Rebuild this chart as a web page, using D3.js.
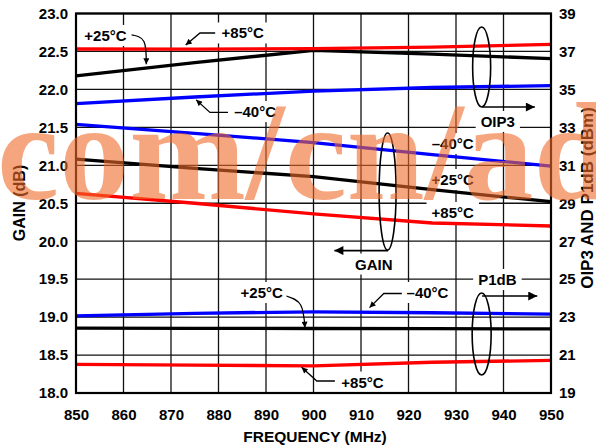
<!DOCTYPE html>
<html>
<head>
<meta charset="utf-8">
<script src="https://cdn.jsdelivr.net/npm/d3@7/dist/d3.min.js"></script>
<style>
  body { margin: 0; background: #fff; }
  svg { display: block; }
  text { font-family: "Liberation Sans", Arial, sans-serif; font-weight: bold; fill: #000; }
  text.mark { font-family: "Liberation Serif", "Times New Roman", serif; fill: #f06a28; fill-opacity: 0.6; }
</style>
</head>
<body>
<svg id="chart" width="596" height="448"></svg>
<script>
// Frequency sweep points (MHz)
const freqs = [850, 875, 900, 925, 950];

// Gain (dB), left axis
const gainM40 = [21.54, 21.42, 21.30, 21.14, 20.99];
const gainP25 = [21.08, 20.96, 20.85, 20.68, 20.52];
const gainP85 = [20.63, 20.50, 20.36, 20.24, 20.20];

// OIP3 (dBm), right axis
const oip3M40 = [34.25, 34.60, 34.91, 35.10, 35.20];
const oip3P25 = [35.71, 36.41, 37.06, 36.86, 36.62];
const oip3P85 = [37.13, 37.12, 37.15, 37.23, 37.37];

// P1dB (dBm), right axis
const p1dbM40 = [23.06, 23.20, 23.28, 23.23, 23.16];
const p1dbP25 = [22.42, 22.41, 22.40, 22.39, 22.38];
const p1dbP85 = [20.51, 20.47, 20.43, 20.62, 20.72];

// Tick labels
const freqTicks = [850, 860, 870, 880, 890, 900, 910, 920, 930, 940, 950];
const gainTicks = [18.0, 18.5, 19.0, 19.5, 20.0, 20.5, 21.0, 21.5, 22.0, 22.5, 23.0];
const dbmTicks  = [19, 21, 23, 25, 27, 29, 31, 33, 35, 37, 39];

const svg = d3.select("#chart");
const L = 76, R = 551, T = 13.5, B = 393;

const x  = d3.scaleLinear().domain([850, 950]).range([L, R]);
const yL = d3.scaleLinear().domain([18, 23]).range([B, T]);
const yR = d3.scaleLinear().domain([19, 39]).range([B, T]);

// Grid
const grid = svg.append("g").attr("stroke", "#111").attr("stroke-width", 1.3);
grid.selectAll("line.v").data(freqTicks).join("line")
  .attr("x1", d => x(d)).attr("x2", d => x(d)).attr("y1", T).attr("y2", B);
grid.selectAll("line.h").data(gainTicks).join("line")
  .attr("y1", d => yL(d)).attr("y2", d => yL(d)).attr("x1", L).attr("x2", R);

// Axes (labels only)
const fs = 15;
const axL = svg.append("g").attr("transform", `translate(${L},0)`)
  .call(d3.axisLeft(yL).tickValues(gainTicks).tickFormat(d3.format(".1f")).tickSize(0).tickPadding(8));
const axR = svg.append("g").attr("transform", `translate(${R},0)`)
  .call(d3.axisRight(yR).tickValues(dbmTicks).tickFormat(d3.format("d")).tickSize(0).tickPadding(8));
const axB = svg.append("g").attr("transform", `translate(0,${B})`)
  .call(d3.axisBottom(x).tickValues(freqTicks).tickFormat(d3.format("d")).tickSize(0).tickPadding(16));
[axL, axR, axB].forEach(a => {
  a.select(".domain").remove();
  a.selectAll("text").attr("font-size", fs).attr("font-family", null).style("font-weight", "bold");
});

// Axis titles
svg.append("text").attr("font-size", 15.5).attr("text-anchor", "middle")
  .attr("x", 315).attr("y", 442).text("FREQUENCY (MHz)");
svg.append("text").attr("font-size", 16).attr("text-anchor", "middle")
  .attr("transform", "translate(25,203) rotate(-90)").text("GAIN (dB)");
svg.append("text").attr("font-size", 17).attr("text-anchor", "middle")
  .attr("transform", "translate(593,198) rotate(-90)").text("OIP3 AND P1dB (dBm)");

// Annotation labels, placed in frequency / gain units
const labels = [
  { t: "+25°C", f: 856.2, g: 22.638 },
  { t: "+85°C", f: 885.1, g: 22.671 },
  { t: "\u201340°C", f: 887.7, g: 21.636 },
  { t: "OIP3", f: 938.8, g: 21.505 },
  { t: "\u201340°C", f: 929.3, g: 21.215 },
  { t: "+25°C", f: 929.3, g: 20.740 },
  { t: "+85°C", f: 929.3, g: 20.306 },
  { t: "GAIN", f: 912.7, g: 19.627 },
  { t: "P1dB", f: 938.7, g: 19.423 },
  { t: "+25°C", f: 889.1, g: 19.252 },
  { t: "\u201340°C", f: 924.0, g: 19.252 },
  { t: "+85°C", f: 910.3, g: 18.072 }
];
const lblG = svg.append("g");
labels.forEach(d => {
  const g = lblG.append("g");
  const rect = g.append("rect").attr("fill", "#fff");
  const t = g.append("text").attr("font-size", fs).attr("text-anchor", "middle")
    .attr("x", x(d.f)).attr("y", yL(d.g)).text(d.t);
  const bb = t.node().getBBox();
  rect.attr("x", bb.x - 5).attr("y", bb.y - 2).attr("width", bb.width + 10).attr("height", bb.height + 4);
});

// Curves
const line = (ys, yScale) => d3.line().x((d, i) => x(freqs[i])).y(d => yScale(d))(ys);
const series = [
  { v: gainM40, s: yL, c: "#0000ff" }, { v: gainP25, s: yL, c: "#000" }, { v: gainP85, s: yL, c: "#ff0000" },
  { v: oip3M40, s: yR, c: "#0000ff" }, { v: oip3P25, s: yR, c: "#000" }, { v: oip3P85, s: yR, c: "#ff0000" },
  { v: p1dbM40, s: yR, c: "#0000ff" }, { v: p1dbP25, s: yR, c: "#000" }, { v: p1dbP85, s: yR, c: "#ff0000" }
];
svg.append("g").selectAll("path").data(series).join("path")
  .attr("d", d => line(d.v, d.s)).attr("fill", "none")
  .attr("stroke", d => d.c).attr("stroke-width", 3.3).attr("stroke-linejoin", "round");

// Arrowheads
const defs = svg.append("defs");
defs.append("marker").attr("id", "ah").attr("markerUnits", "userSpaceOnUse")
  .attr("viewBox", "0 0 10 10").attr("refX", 10).attr("refY", 5)
  .attr("markerWidth", 9).attr("markerHeight", 6).attr("orient", "auto")
  .append("path").attr("d", "M0,0L10,5L0,10Z").attr("fill", "#000");
defs.append("marker").attr("id", "ahBig").attr("markerUnits", "userSpaceOnUse")
  .attr("viewBox", "0 0 10 10").attr("refX", 10).attr("refY", 5)
  .attr("markerWidth", 17).attr("markerHeight", 9).attr("orient", "auto")
  .append("path").attr("d", "M0,0L10,5L0,10Z").attr("fill", "#000");

// Leader lines (frequency, gain) with arrow at the last point
const leaders = [
  { p: [[861.7, 22.717], [864.3, 22.63], [864.8, 22.33]], curve: true },
  { p: [[879.3, 22.743], [876.1, 22.743], [873.1, 22.585]] },
  { p: [[882.0, 21.696], [878.2, 21.696], [875.3, 21.862]] },
  { p: [[894.3, 19.278], [897.3, 19.16], [898.2, 18.86]], curve: true },
  { p: [[918.6, 19.311], [914.8, 19.311], [911.8, 19.125]] },
  { p: [[904.5, 18.158], [900.7, 18.158], [897.5, 18.338]] }
];
const lg = d3.line().x(d => x(d[0])).y(d => yL(d[1]));
svg.append("g").selectAll("path").data(leaders).join("path")
  .attr("d", d => (d.curve ? lg.curve(d3.curveNatural) : lg.curve(d3.curveLinear))(d.p))
  .attr("fill", "none").attr("stroke", "#000").attr("stroke-width", 1.3)
  .attr("marker-end", "url(#ah)");

// Group ellipses and direction arrows
const groups = [
  { f: 935.4, g: 22.295, rx: 9, ry: 40, a: [[935.5, 21.768], [946.6, 21.768]] },
  { f: 915.6, g: 20.655, rx: 8.5, ry: 58.5, a: [[915.7, 19.876], [904.4, 19.876]] },
  { f: 935.4, g: 18.777, rx: 9.5, ry: 41, a: [[935.5, 19.278], [947.1, 19.278]] }
];
const gg = svg.append("g");
groups.forEach(d => {
  gg.append("ellipse").attr("cx", x(d.f)).attr("cy", yL(d.g)).attr("rx", d.rx).attr("ry", d.ry)
    .attr("fill", "none").attr("stroke", "#000").attr("stroke-width", 1.6);
  gg.append("path").attr("d", lg.curve(d3.curveLinear)(d.a))
    .attr("stroke", "#000").attr("stroke-width", 1.6).attr("marker-end", "url(#ahBig)");
});

// Plot frame
svg.append("rect").attr("x", L).attr("y", T).attr("width", R - L).attr("height", B - T)
  .attr("fill", "none").attr("stroke", "#000").attr("stroke-width", 2.2);

// Site mark across the plot
svg.append("text").attr("class", "mark").attr("x", -3).attr("y", 199)
  .attr("font-size", 140).text("com/cn/ad");
</script>
</body>
</html>
